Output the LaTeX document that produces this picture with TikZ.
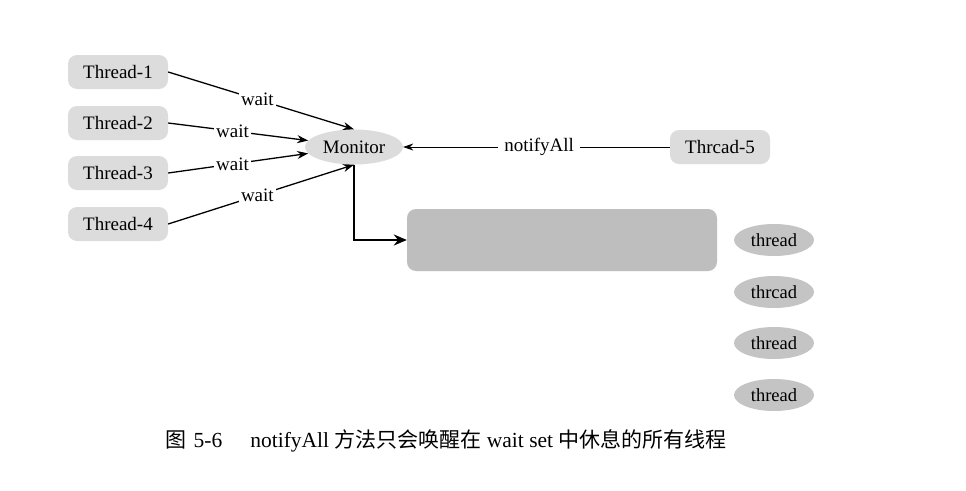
\documentclass[tikz,border=0pt]{standalone}
\usepackage{fontspec}
\setmainfont{Liberation Serif}
\newfontfamily\cjk{Noto Sans CJK SC}
\usetikzlibrary{shapes.geometric,arrows.meta}
\definecolor{lightbox}{HTML}{DCDCDC}
\definecolor{darkbox}{HTML}{BEBEBE}
\definecolor{ellbox}{HTML}{C4C4C4}
\tikzset{
  thr/.style={rectangle, rounded corners=9pt, fill=lightbox, minimum width=100pt, minimum height=34pt, inner sep=0pt, font=\fontsize{19}{21}\selectfont},
  mon/.style={ellipse, fill=lightbox, minimum width=98pt, minimum height=35pt, inner sep=0pt, font=\fontsize{19}{21}\selectfont},
  setbox/.style={rectangle, rounded corners=9pt, fill=darkbox, minimum width=310pt, minimum height=62pt, inner sep=0pt},
  thell/.style={ellipse, fill=ellbox, minimum width=80pt, minimum height=32pt, inner sep=0pt, font=\fontsize{18.5}{20}\selectfont},
  arr/.style={line width=1.3pt, -{Stealth[length=11pt,width=8pt]}},
  thinarr/.style={line width=0.8pt, -{Stealth[length=10pt,width=7pt]}},
  bigarr/.style={line width=2.8pt, -{Stealth[length=13pt,width=11pt]}},
  lbl/.style={fill=white, inner sep=2pt, font=\fontsize{19}{21}\selectfont},
  cjkf/.style={},
}
\newcommand{\cj}[1]{{\cjk\fontsize{21}{23}\selectfont #1}}
\begin{document}
\begin{tikzpicture}[x=1pt,y=-1pt]
\useasboundingbox[fill=white] (0,0) rectangle (966,490);
\node[thr] (t1) at (118,72) {Thread-1};
\node[thr] (t2) at (118,123) {Thread-2};
\node[thr] (t3) at (118,173) {Thread-3};
\node[thr] (t4) at (118,224) {Thread-4};
\node[mon] (m) at (354,147) {Monitor};
\node[thr] (t5) at (720,147) {Thrcad-5};
\node[setbox] (ws) at (562,240) {};
\node[thell] (e1) at (774,240) {thread};
\node[thell] (e2) at (774,292) {thrcad};
\node[thell] (e3) at (774,343) {thread};
\node[thell] (e4) at (774,395) {thread};

\draw[arr] (t1.east) -- node[lbl, pos=0.48] {wait} (m.north);
\draw[arr] (t2.east) -- node[lbl, pos=0.46] {wait} (m.172);
\draw[arr] (t3.east) -- node[lbl, pos=0.46] {wait} (m.188);
\draw[arr] (t4.east) -- node[lbl, pos=0.48] {wait} (m.south);
\draw[thinarr] (t5.west) -- node[lbl, pos=0.49, inner sep=6pt] {notifyAll} (m.east);
\draw[bigarr] (m.south) |- (ws.west);

\node[anchor=west, inner sep=0pt, font=\fontsize{21.5}{23}\selectfont] (cap) at (165,441) {\cj{图}\hspace{0.35em}5-6\hspace{1.3em}notifyAll \cj{方法只会唤醒在} wait set \cj{中休息的所有线程}};
\end{tikzpicture}
\end{document}
